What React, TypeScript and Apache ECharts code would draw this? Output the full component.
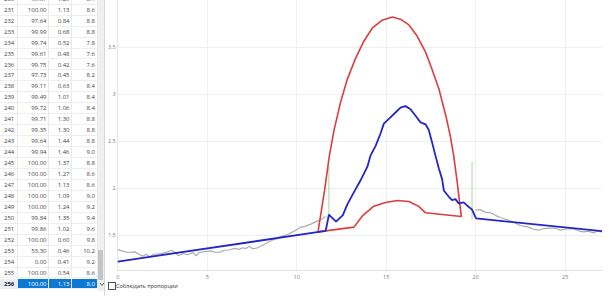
import React, { useEffect, useRef } from "react";
import * as echarts from "echarts";

// ---------- table data ----------
const rowIds = [230, 231, 232, 233, 234, 235, 236, 237, 238, 239, 240, 241, 242, 243, 244, 245, 246, 247, 248, 249, 250, 251, 252, 253, 254, 255, 256];
const colA = ["99.67", "100.00", "97.64", "99.99", "99.74", "99.61", "99.75", "97.73", "99.11", "99.49", "99.72", "99.71", "99.35", "99.64", "99.94", "100.00", "100.00", "100.00", "100.00", "100.00", "99.84", "99.86", "100.00", "53.30", "0.00", "100.00", "100.00"];
const colB = ["1.29", "1.13", "0.84", "0.68", "0.52", "0.48", "0.42", "0.45", "0.63", "1.01", "1.06", "1.30", "1.30", "1.44", "1.46", "1.37", "1.27", "1.13", "1.09", "1.24", "1.35", "1.02", "0.60", "0.46", "0.41", "0.54", "1.13"];
const colC = ["8.4", "8.6", "8.8", "8.8", "7.8", "7.6", "7.6", "8.2", "8.4", "8.4", "8.4", "8.8", "8.8", "8.8", "9.0", "8.8", "8.6", "8.6", "9.0", "9.2", "9.4", "9.6", "9.8", "10.2", "9.2", "8.6", "8.0"];
const selectedRow = 256;
const checkboxLabel = "Соблюдать пропорции";

// ---------- chart data ----------
const grayLeft: [number, number][] = [
  [0, 1.352], [0.22, 1.335], [0.57, 1.318], [0.94, 1.325], [1.2, 1.3], [1.4, 1.28], [1.6, 1.3], [1.77, 1.274],
  [2.05, 1.3], [2.42, 1.307], [2.8, 1.325], [3.02, 1.342], [3.2, 1.318], [3.39, 1.284], [3.63, 1.307], [3.91, 1.294],
  [4.19, 1.318], [4.37, 1.284], [4.56, 1.318], [4.84, 1.328], [5.21, 1.335], [5.49, 1.318], [5.77, 1.325], [5.95, 1.342],
  [6.23, 1.345], [6.51, 1.362], [6.79, 1.352], [6.98, 1.368], [7.16, 1.362], [7.35, 1.385], [7.54, 1.358], [7.81, 1.368],
  [8.09, 1.395], [8.28, 1.413], [8.56, 1.443], [8.83, 1.463], [9.11, 1.487], [9.49, 1.51], [9.86, 1.545], [10.23, 1.588],
  [10.5, 1.598], [10.79, 1.62], [11.06, 1.646], [11.34, 1.666], [11.62, 1.7],
];
const grayRight: [number, number][] = [
  [20.0, 1.768], [20.26, 1.774], [20.54, 1.747], [20.82, 1.74], [21.1, 1.713], [21.38, 1.69], [21.65, 1.672], [21.93, 1.656],
  [22.21, 1.632], [22.49, 1.605], [22.68, 1.598], [22.95, 1.588], [23.23, 1.565], [23.51, 1.555], [23.79, 1.571], [24.16, 1.578],
  [24.44, 1.578], [24.72, 1.555], [25.0, 1.565], [25.28, 1.571], [25.56, 1.565], [25.8, 1.545], [26.02, 1.537], [26.3, 1.545],
  [26.58, 1.527], [26.77, 1.545], [27.05, 1.537],
];
const greenX = [11.8, 19.8];
const greenTop = [2.23, 2.28];
const greenBottom = [1.67, 1.67];
const redShape: [number, number][] = [
  [11.19, 1.537], [11.56, 1.98], [11.83, 2.35], [12.09, 2.62], [12.46, 2.92], [12.83, 3.16], [13.29, 3.38], [13.76, 3.565],
  [14.22, 3.7], [14.78, 3.786], [15.34, 3.82], [15.8, 3.796], [16.27, 3.735], [16.73, 3.617], [17.2, 3.447], [17.57, 3.26],
  [17.94, 3.06], [18.31, 2.79], [18.59, 2.55], [18.77, 2.35], [18.96, 2.08], [19.11, 1.84], [19.2, 1.7],
  [17.2, 1.74], [16.82, 1.808], [16.27, 1.86], [15.62, 1.87], [14.97, 1.85], [14.31, 1.81], [13.67, 1.707], [13.2, 1.588],
  [11.19, 1.537],
];
const blueLine: [number, number][] = [
  [0, 1.222], [11.62, 1.547], [11.8, 1.72], [12.2, 1.646], [12.58, 1.715], [12.83, 1.83], [13.2, 1.96], [13.57, 2.085],
  [13.95, 2.23], [14.13, 2.35], [14.41, 2.45], [14.69, 2.585], [14.87, 2.687], [15.15, 2.737], [15.52, 2.805], [15.8, 2.856],
  [16.08, 2.873], [16.36, 2.84], [16.64, 2.77], [16.92, 2.7], [17.2, 2.68], [17.38, 2.62], [17.57, 2.484], [17.75, 2.35],
  [17.94, 2.214], [18.13, 2.095], [18.22, 1.977], [18.5, 1.91], [18.68, 1.875], [18.87, 1.885], [19.05, 1.84], [19.33, 1.85],
  [19.52, 1.818], [19.8, 1.774], [20.02, 1.68], [27.06, 1.545],
];
const xMax = 27.06;
const yMin = 1.125;
const yMax = 4.0;

const FONT = "'Open Sans', 'Noto Sans', sans-serif";
const ROW_H = 10.95;
const ROW_TOP = -6.2;
const COLS = [
  { left: 0, width: 18 },
  { left: 18, width: 31 },
  { left: 49, width: 23 },
  { left: 72, width: 25.5 },
];

function Table() {
  return (
    <div style={{ position: "absolute", left: 0, top: 0, width: 105, height: 296, overflow: "hidden", background: "#fff" }}>
      {rowIds.map((id, i) => {
        const sel = id === selectedRow;
        const vals = [String(id), colA[i], colB[i], colC[i]];
        return (
          <div key={id} style={{ position: "absolute", left: 0, top: ROW_TOP + i * ROW_H, height: ROW_H, width: 97.5 }}>
            {vals.map((v, c) => (
              <div
                key={c}
                style={{
                  position: "absolute",
                  left: COLS[c].left,
                  width: COLS[c].width,
                  top: 0,
                  height: ROW_H,
                  boxSizing: "border-box",
                  borderRight: "1px solid #e9e9e9",
                  borderBottom: "1px solid #eeeeee",
                  background: sel ? (c === 0 ? "#e8eef6" : "#0a78d4") : "#fff",
                  color: sel ? (c === 0 ? "#222" : "#fff") : "#444",
                  fontWeight: sel && c === 0 ? 700 : 400,
                  fontFamily: FONT,
                  fontSize: 6,
                  lineHeight: ROW_H + "px",
                  textAlign: c === 0 ? "left" : "right",
                  paddingLeft: c === 0 ? 4 : 0,
                  paddingRight: c === 0 ? 0 : 1.5,
                  whiteSpace: "nowrap",
                }}
              >
                {v}
              </div>
            ))}
          </div>
        );
      })}
      {/* scrollbar */}
      <div style={{ position: "absolute", left: 97.5, top: 0, width: 6.5, height: 291, background: "#f0f0f0" }} />
      <div style={{ position: "absolute", left: 98.3, top: 250, width: 5, height: 30, background: "#c4c4c4" }} />
      <svg style={{ position: "absolute", left: 98.5, top: 282 }} width={6} height={5}>
        <polyline points="1,1 3,3.5 5,1" fill="none" stroke="#606060" strokeWidth={1} />
      </svg>
      <div style={{ position: "absolute", left: 104, top: 0, width: 1, height: 296, background: "#d6d6d6" }} />
    </div>
  );
}

export default function App() {
  const ref = useRef<HTMLDivElement>(null);
  useEffect(() => {
    const chart = echarts.init(ref.current!, null, { renderer: "svg" });
    const grayData: any[] = [...grayLeft, [15.5, "-"], ...grayRight];
    const greenData: any[] = [];
    greenX.forEach((x, i) => {
      if (i > 0) greenData.push([(greenX[i - 1] + x) / 2, "-"]);
      greenData.push([x, greenTop[i]]);
      greenData.push([x, greenBottom[i]]);
    });
    const labelStyle = { fontSize: 5.5, color: "#7a7a7a", fontFamily: FONT };
    chart.setOption({
      animation: false,
      backgroundColor: "#fff",
      grid: { left: 11.5, right: 8, top: -12.3, bottom: 25.3, containLabel: false },
      xAxis: {
        type: "value",
        min: 0,
        max: xMax,
        interval: 5,
        axisLine: { show: true, lineStyle: { color: "#e2e2e2", width: 1 } },
        axisTick: { show: false },
        axisLabel: { ...labelStyle, margin: 3, showMaxLabel: false },
        splitLine: { show: true, showMaxLine: false, lineStyle: { color: "#efefef", width: 1 } },
      },
      yAxis: {
        type: "value",
        min: yMin,
        max: yMax,
        splitNumber: 5,
        axisLine: { show: true, lineStyle: { color: "#e6e6e6", width: 1 } },
        axisTick: { show: false },
        axisLabel: { ...labelStyle, margin: 2, showMinLabel: false, showMaxLabel: false },
        splitLine: { show: true, showMinLine: false, showMaxLine: false, lineStyle: { color: "#efefef", width: 1 } },
      },
      series: [
        {
          type: "line",
          data: grayData,
          showSymbol: false,
          connectNulls: false,
          lineStyle: { color: "#adadad", width: 1.2 },
          z: 1,
        },
        {
          type: "line",
          data: greenData,
          showSymbol: false,
          connectNulls: false,
          lineStyle: { color: "#a9d6a2", width: 1 },
          z: 2,
        },
        {
          type: "line",
          data: redShape,
          showSymbol: false,
          lineStyle: { color: "#dc3d3d", width: 1.6 },
          z: 3,
        },
        {
          type: "line",
          data: blueLine,
          showSymbol: false,
          lineStyle: { color: "#2525c8", width: 1.8 },
          z: 4,
        },
      ],
    });
    return () => chart.dispose();
  }, []);

  return (
    <div style={{ position: "absolute", left: 0, top: 0, width: 610, height: 296, overflow: "hidden", background: "#fff", fontFamily: FONT }}>
      <Table />
      <div ref={ref} style={{ position: "absolute", left: 105, top: 0, width: 505, height: 296 }} />
      <div style={{ position: "absolute", left: 107.5, top: 282, width: 6, height: 6, border: "1px solid #555", background: "#fff", boxSizing: "content-box" }} />
      <div style={{ position: "absolute", left: 116, top: 281.5, fontSize: 5.5, lineHeight: "8px", color: "#333", fontFamily: FONT, whiteSpace: "nowrap" }}>
        {checkboxLabel}
      </div>
    </div>
  );
}
